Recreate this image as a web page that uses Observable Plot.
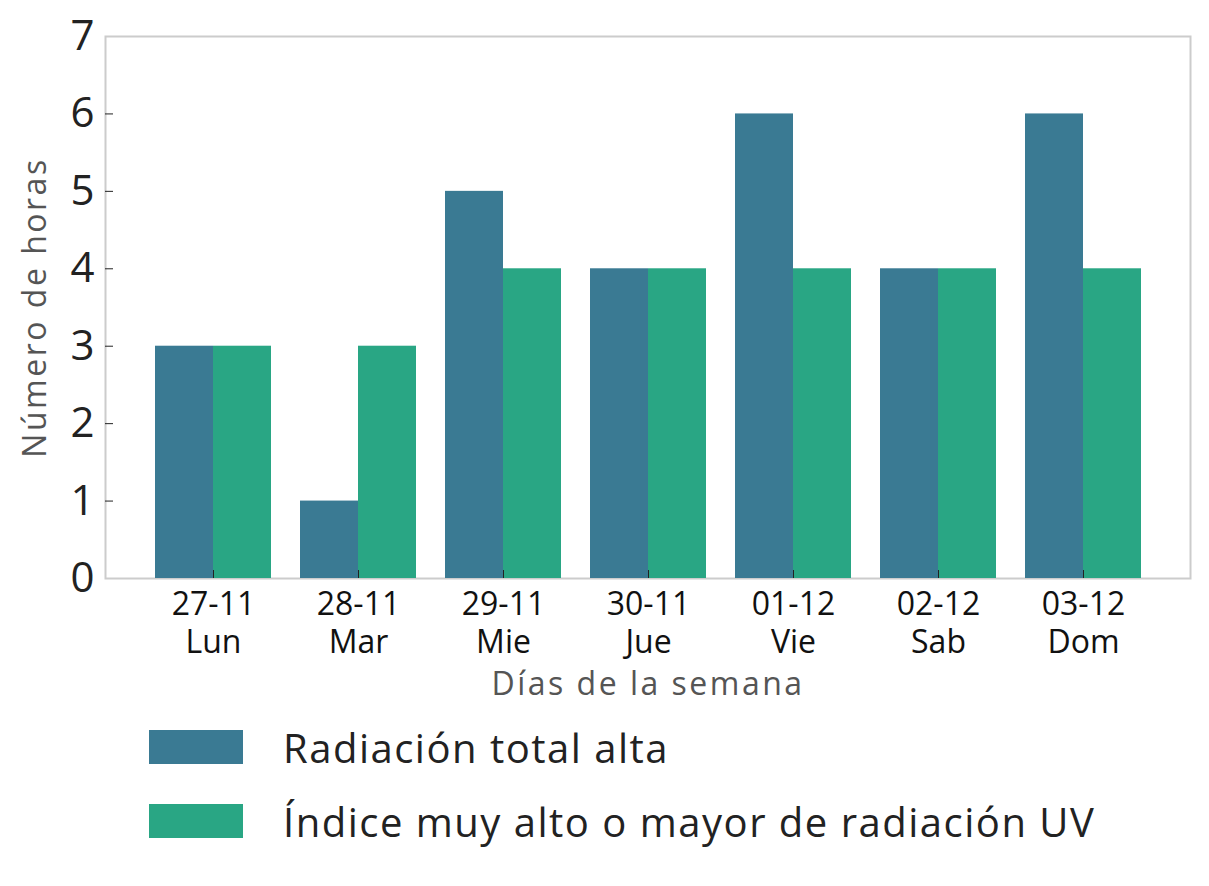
<!DOCTYPE html>
<html>
<head>
<meta charset="utf-8">
<script src="https://cdn.jsdelivr.net/npm/d3@7"></script>
<script src="https://cdn.jsdelivr.net/npm/@observablehq/plot@0.6"></script>
<style>
  body { margin: 0; background: #fff; font-family: "Open Sans", Lato, sans-serif; }
  #legend { padding-left: 149px; }
  .row { display: flex; align-items: center; height: 74px; }
  .sw { width: 94px; height: 34px; margin-right: 40px; }
  .lab { font-size: 40px; letter-spacing: 1.5px; color: #222; }
</style>
</head>
<body>
<div id="chart"></div>
<div id="legend"></div>
<script>
const days = ["27-11", "28-11", "29-11", "30-11", "01-12", "02-12", "03-12"];
const weekdays = ["Lun", "Mar", "Mie", "Jue", "Vie", "Sab", "Dom"];
const radiacion = [3, 1, 5, 4, 6, 4, 6];
const uv = [3, 3, 4, 4, 4, 4, 4];
const seriesNames = ["Radiación total alta", "Índice muy alto o mayor de radiación UV"];
const colors = ["#3a7a93", "#29a684"];
const yTicks = [0, 1, 2, 3, 4, 5, 6, 7];
const yTitle = "Número de horas";
const xTitle = "Días de la semana";

const table = days.map((d, i) => ({day: d, wd: weekdays[i], rad: radiacion[i], uv: uv[i]}));
const wdOf = new Map(days.map((d, i) => [d, weekdays[i]]));

const chart = Plot.plot({
  width: 1209,
  height: 710,
  marginTop: 36,
  marginBottom: 132,
  marginLeft: 105,
  marginRight: 19,
  style: {fontFamily: "'Open Sans', Lato, sans-serif", background: "#fff"},
  x: {type: "band", domain: days, paddingInner: 0.2, paddingOuter: 0.34},
  y: {domain: [0, 7]},
  marks: [
    Plot.frame({stroke: "#cccccc", strokeWidth: 2}),
    Plot.barY(table, {x: "day", y: "rad", fill: colors[0], insetLeft: 0, insetRight: 58}),
    Plot.barY(table, {x: "day", y: "uv", fill: colors[1], insetLeft: 58, insetRight: 0}),
    Plot.axisY({ticks: [1, 2, 3, 4, 5, 6], tickSize: 8, dx: 8, stroke: "#222", fill: "none", label: null}),
    Plot.axisY({ticks: yTicks, tickFormat: d => String(d), tickSize: 0, tickPadding: 11, fontSize: 42, fill: "#222", label: null}),
    Plot.axisX({tickSize: 8, dy: -8, stroke: "#222", fill: "none", label: null}),
    Plot.axisX({tickSize: 0, tickPadding: 9, fontSize: 32, lineHeight: 1.19, fill: "#111", label: null,
      tickFormat: d => d + "\n" + wdOf.get(d)}),
    Plot.text([yTitle], {text: d => d, frameAnchor: "left", textAnchor: "middle", lineAnchor: "middle", rotate: -90, dx: -70, fontSize: 32, fill: "#555"}),
    Plot.text([xTitle], {text: d => d, frameAnchor: "bottom", textAnchor: "middle", lineAnchor: "middle", dy: 106, fontSize: 32, fill: "#555"})
  ]
});
document.getElementById("chart").appendChild(chart);

d3.select(chart).selectAll("text")
  .filter(function() { return this.textContent === yTitle || this.textContent === xTitle; })
  .attr("letter-spacing", "2.5px");

const legend = document.getElementById("legend");
seriesNames.forEach((n, i) => {
  const row = document.createElement("div");
  row.className = "row";
  const sw = document.createElement("div");
  sw.className = "sw";
  sw.style.background = colors[i];
  const lab = document.createElement("div");
  lab.className = "lab";
  lab.textContent = n;
  row.appendChild(sw);
  row.appendChild(lab);
  legend.appendChild(row);
});
</script>
</body>
</html>
